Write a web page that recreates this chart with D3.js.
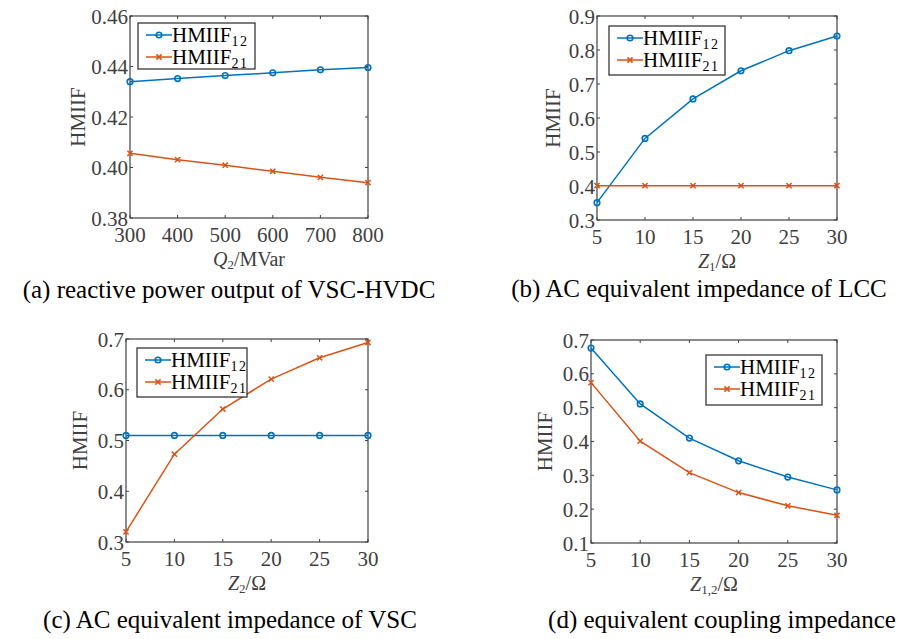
<!DOCTYPE html>
<html>
<head>
<meta charset="utf-8">
<script src="https://cdn.jsdelivr.net/npm/d3@7"></script>
<style>
  body { margin: 0; background: #fff; }
</style>
</head>
<body>
<div id="chart"></div>
<script>
// panel (a): reactive power output of VSC-HVDC
const qValues = [300, 400, 500, 600, 700, 800];
const aHmiif12 = [0.434, 0.4352, 0.4364, 0.4375, 0.4387, 0.4396];
const aHmiif21 = [0.4056, 0.4031, 0.4009, 0.3985, 0.3961, 0.3940];

// shared impedance steps
const zValues = [5, 10, 15, 20, 25, 30];

// panel (b): AC equivalent impedance of LCC
const bHmiif12 = [0.351, 0.540, 0.656, 0.739, 0.798, 0.841];
const bHmiif21 = [0.401, 0.401, 0.401, 0.401, 0.401, 0.401];

// panel (c): AC equivalent impedance of VSC
const cHmiif12 = [0.510, 0.510, 0.510, 0.510, 0.510, 0.510];
const cHmiif21 = [0.320, 0.473, 0.562, 0.621, 0.663, 0.693];

// panel (d): equivalent coupling impedance
const dHmiif12 = [0.676, 0.511, 0.410, 0.343, 0.295, 0.257];
const dHmiif21 = [0.574, 0.401, 0.308, 0.249, 0.210, 0.182];

const aYTicks = [0.38, 0.40, 0.42, 0.44, 0.46];
const bYTicks = [0.3, 0.4, 0.5, 0.6, 0.7, 0.8, 0.9];
const cYTicks = [0.3, 0.4, 0.5, 0.6, 0.7];
const dYTicks = [0.1, 0.2, 0.3, 0.4, 0.5, 0.6, 0.7];

const blue = "#0072BD";
const orange = "#D95319";
const axisColor = "#404040";
const serif = "'Liberation Serif', 'DejaVu Serif', serif";

const svg = d3.select("#chart")
  .append("svg")
  .attr("width", 909)
  .attr("height", 639)
  .attr("font-family", serif);

function drawPanel(opt) {
  const x = d3.scaleLinear().domain(opt.xDomain).range([opt.left, opt.right]);
  const y = d3.scaleLinear().domain(opt.yDomain).range([opt.bottom, opt.top]);
  const g = svg.append("g");

  // box
  g.append("rect")
    .attr("x", opt.left).attr("y", opt.top)
    .attr("width", opt.right - opt.left).attr("height", opt.bottom - opt.top)
    .attr("fill", "none").attr("stroke", axisColor).attr("stroke-width", 1.2);

  const tickLen = 3;
  // ticks inward on all sides, like a matlab box
  opt.xTicks.forEach((t) => {
    g.append("line").attr("x1", x(t)).attr("x2", x(t))
      .attr("y1", opt.bottom).attr("y2", opt.bottom - tickLen)
      .attr("stroke", axisColor);
    g.append("line").attr("x1", x(t)).attr("x2", x(t))
      .attr("y1", opt.top).attr("y2", opt.top + tickLen)
      .attr("stroke", axisColor);
    g.append("text").attr("x", x(t)).attr("y", opt.bottom + 24)
      .attr("text-anchor", "middle").attr("font-size", 21)
      .attr("fill", axisColor).text(opt.xFmt(t));
  });
  opt.yTicks.forEach((t) => {
    g.append("line").attr("x1", opt.left).attr("x2", opt.left + tickLen)
      .attr("y1", y(t)).attr("y2", y(t)).attr("stroke", axisColor);
    g.append("line").attr("x1", opt.right).attr("x2", opt.right - tickLen)
      .attr("y1", y(t)).attr("y2", y(t)).attr("stroke", axisColor);
    g.append("text").attr("x", opt.left - 2).attr("y", y(t) + 7.5)
      .attr("text-anchor", "end").attr("font-size", 21)
      .attr("fill", axisColor).text(opt.yFmt(t));
  });

  // y label
  g.append("text")
    .attr("transform", `translate(${opt.yLabelX},${(opt.top + opt.bottom) / 2}) rotate(-90)`)
    .attr("text-anchor", "middle").attr("font-size", 21)
    .attr("fill", axisColor).text("HMIIF");

  // x label
  const xl = g.append("text")
    .attr("x", (opt.left + opt.right) / 2).attr("y", opt.bottom + 48)
    .attr("text-anchor", "middle").attr("font-size", 20).attr("fill", axisColor);
  opt.xLabel.forEach((p) => {
    const s = xl.append("tspan").text(p.t);
    if (p.italic) s.attr("font-style", "italic");
    if (p.sub) s.attr("font-size", 13).attr("dy", 3);
    if (p.up) s.attr("dy", -3);
  });

  const line = d3.line().x((d) => x(d[0])).y((d) => y(d[1]));
  const s12 = opt.xVals.map((v, i) => [v, opt.s12[i]]);
  const s21 = opt.xVals.map((v, i) => [v, opt.s21[i]]);

  g.append("path").datum(s12).attr("d", line)
    .attr("fill", "none").attr("stroke", blue).attr("stroke-width", 1.5);
  g.selectAll(".m12").data(s12).enter().append("circle")
    .attr("cx", (d) => x(d[0])).attr("cy", (d) => y(d[1])).attr("r", 2.8)
    .attr("fill", "none").attr("stroke", blue).attr("stroke-width", 1.6);

  g.append("path").datum(s21).attr("d", line)
    .attr("fill", "none").attr("stroke", orange).attr("stroke-width", 1.5);
  s21.forEach((d) => drawCross(g, x(d[0]), y(d[1])));

  // legend
  const lg = g.append("g");
  lg.append("rect")
    .attr("x", opt.legend[0]).attr("y", opt.legend[1])
    .attr("width", opt.legend[2]).attr("height", opt.legend[3])
    .attr("fill", "#fff").attr("stroke", "#262626").attr("stroke-width", 1.2);
  const rows = [
    { c: blue, sub: "12", circle: true },
    { c: orange, sub: "21", circle: false },
  ];
  rows.forEach((r, i) => {
    const lx = opt.legend[0] + 8;
    const ly = opt.legend[1] + 12 + i * 22;
    lg.append("line").attr("x1", lx).attr("x2", lx + 26)
      .attr("y1", ly).attr("y2", ly)
      .attr("stroke", r.c).attr("stroke-width", 1.5);
    if (r.circle) {
      lg.append("circle").attr("cx", lx + 13).attr("cy", ly).attr("r", 2.8)
        .attr("fill", "none").attr("stroke", r.c).attr("stroke-width", 1.6);
    } else {
      drawCross(lg, lx + 13, ly);
    }
    const t = lg.append("text").attr("x", lx + 26).attr("y", ly + 7)
      .attr("font-size", 21).attr("fill", "#000");
    t.append("tspan").text("HMIIF");
    t.append("tspan").attr("font-size", 14).attr("letter-spacing", 1.5)
      .attr("dy", 4).text(r.sub);
  });

  // caption
  svg.append("text")
    .attr("x", opt.caption[0]).attr("y", opt.caption[1])
    .attr("text-anchor", "middle").attr("font-size", 25)
    .attr("fill", "#000").text(opt.caption[2]);
}

function drawCross(g, cx, cy) {
  const r = 2.6;
  g.append("path")
    .attr("d", `M${cx - r},${cy - r}L${cx + r},${cy + r}M${cx - r},${cy + r}L${cx + r},${cy - r}`)
    .attr("stroke", orange).attr("stroke-width", 1.5).attr("fill", "none");
}

const fmt1 = d3.format(".1f");

drawPanel({
  left: 130, right: 368, top: 16, bottom: 218,
  xDomain: [300, 800], yDomain: [0.38, 0.46],
  xTicks: qValues, yTicks: aYTicks,
  xFmt: (d) => d, yFmt: d3.format(".2f"),
  xVals: qValues, s12: aHmiif12, s21: aHmiif21,
  yLabelX: 85,
  xLabel: [{ t: "Q", italic: true }, { t: "2", sub: true }, { t: "/MVar", up: true }],
  legend: [138, 23, 117, 46],
  caption: [229, 298, "(a) reactive power output of VSC-HVDC"],
});

drawPanel({
  left: 597, right: 837, top: 16, bottom: 220,
  xDomain: [5, 30], yDomain: [0.3, 0.9],
  xTicks: zValues, yTicks: bYTicks,
  xFmt: (d) => d, yFmt: fmt1,
  xVals: zValues, s12: bHmiif12, s21: bHmiif21,
  yLabelX: 560,
  xLabel: [{ t: "Z", italic: true }, { t: "1", sub: true }, { t: "/Ω", up: true }],
  legend: [609, 26, 116, 49],
  caption: [699, 297, "(b) AC equivalent impedance of LCC"],
});

drawPanel({
  left: 126, right: 368, top: 339, bottom: 542,
  xDomain: [5, 30], yDomain: [0.3, 0.7],
  xTicks: zValues, yTicks: cYTicks,
  xFmt: (d) => d, yFmt: fmt1,
  xVals: zValues, s12: cHmiif12, s21: cHmiif21,
  yLabelX: 87,
  xLabel: [{ t: "Z", italic: true }, { t: "2", sub: true }, { t: "/Ω", up: true }],
  legend: [137, 348, 110, 49],
  caption: [230, 628, "(c) AC equivalent impedance of VSC"],
});

drawPanel({
  left: 591, right: 837, top: 340, bottom: 543,
  xDomain: [5, 30], yDomain: [0.1, 0.7],
  xTicks: zValues, yTicks: dYTicks,
  xFmt: (d) => d, yFmt: fmt1,
  xVals: zValues, s12: dHmiif12, s21: dHmiif21,
  yLabelX: 552,
  xLabel: [{ t: "Z", italic: true }, { t: "1,2", sub: true }, { t: "/Ω", up: true }],
  legend: [706, 355, 116, 50],
  caption: [722, 628, "(d) equivalent coupling impedance"],
});
</script>
</body>
</html>
